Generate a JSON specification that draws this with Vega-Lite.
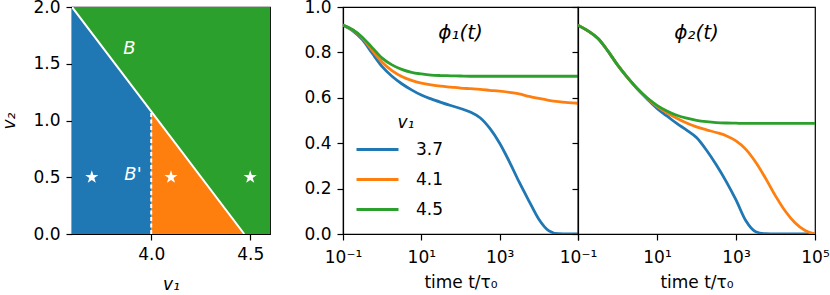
{
  "$schema": "https://vega.github.io/schema/vega-lite/v6.json",
  "background": "white",
  "padding": {"left": 0, "top": -3, "right": 0, "bottom": 0},
  "config": {
    "font": "DejaVu Sans",
    "view": {"stroke": "black", "strokeWidth": 1.2},
    "axis": {"grid": false, "domainColor": "black", "tickColor": "black", "labelColor": "black", "titleColor": "black", "labelFontSize": 17, "titleFontSize": 17, "titleFontWeight": "normal", "tickSize": 6, "domainWidth": 1.2, "tickWidth": 1.2, "labelFont": "DejaVu Sans", "titleFont": "DejaVu Sans", "labelPadding": 5, "titlePadding": 5, "labelFlush": false},
    "legend": {"labelFont": "DejaVu Sans", "titleFont": "DejaVu Sans"}
  },
  "datasets": {
    "boundary": [
      {"v1": 3.6, "b": 2},
      {"v1": 4.0, "b": 1.08},
      {"v1": 4.47, "b": 0},
      {"v1": 4.6, "b": 0}
    ],
    "phi1": [
      {"t": 0.1, "v1": "3.7", "phi": 0.92}, {"t": 0.1778, "v1": "3.7", "phi": 0.895}, {"t": 0.3162, "v1": "3.7", "phi": 0.855}, {"t": 0.5623, "v1": "3.7", "phi": 0.795},
      {"t": 1, "v1": "3.7", "phi": 0.737}, {"t": 1.778, "v1": "3.7", "phi": 0.695}, {"t": 3.162, "v1": "3.7", "phi": 0.662}, {"t": 5.623, "v1": "3.7", "phi": 0.635},
      {"t": 10, "v1": "3.7", "phi": 0.612}, {"t": 17.78, "v1": "3.7", "phi": 0.595}, {"t": 31.62, "v1": "3.7", "phi": 0.58}, {"t": 56.23, "v1": "3.7", "phi": 0.566},
      {"t": 100, "v1": "3.7", "phi": 0.553}, {"t": 177.8, "v1": "3.7", "phi": 0.537}, {"t": 316.2, "v1": "3.7", "phi": 0.512}, {"t": 562.3, "v1": "3.7", "phi": 0.465},
      {"t": 1000, "v1": "3.7", "phi": 0.4}, {"t": 1778, "v1": "3.7", "phi": 0.318}, {"t": 3162, "v1": "3.7", "phi": 0.228}, {"t": 5623, "v1": "3.7", "phi": 0.145},
      {"t": 10000, "v1": "3.7", "phi": 0.065}, {"t": 17783, "v1": "3.7", "phi": 0.015}, {"t": 31623, "v1": "3.7", "phi": 0.001}, {"t": 56234, "v1": "3.7", "phi": 0}, {"t": 100000, "v1": "3.7", "phi": 0},
      {"t": 0.1, "v1": "4.1", "phi": 0.92}, {"t": 0.1778, "v1": "4.1", "phi": 0.898}, {"t": 0.3162, "v1": "4.1", "phi": 0.862}, {"t": 0.5623, "v1": "4.1", "phi": 0.808},
      {"t": 1, "v1": "4.1", "phi": 0.757}, {"t": 1.778, "v1": "4.1", "phi": 0.72}, {"t": 3.162, "v1": "4.1", "phi": 0.694}, {"t": 5.623, "v1": "4.1", "phi": 0.677},
      {"t": 10, "v1": "4.1", "phi": 0.665}, {"t": 17.78, "v1": "4.1", "phi": 0.657}, {"t": 31.62, "v1": "4.1", "phi": 0.651}, {"t": 56.23, "v1": "4.1", "phi": 0.647},
      {"t": 100, "v1": "4.1", "phi": 0.643}, {"t": 177.8, "v1": "4.1", "phi": 0.64}, {"t": 316.2, "v1": "4.1", "phi": 0.637}, {"t": 562.3, "v1": "4.1", "phi": 0.633},
      {"t": 1000, "v1": "4.1", "phi": 0.629}, {"t": 1778, "v1": "4.1", "phi": 0.624}, {"t": 3162, "v1": "4.1", "phi": 0.617}, {"t": 5623, "v1": "4.1", "phi": 0.606},
      {"t": 10000, "v1": "4.1", "phi": 0.597}, {"t": 17783, "v1": "4.1", "phi": 0.589}, {"t": 31623, "v1": "4.1", "phi": 0.583}, {"t": 56234, "v1": "4.1", "phi": 0.579}, {"t": 100000, "v1": "4.1", "phi": 0.576},
      {"t": 0.1, "v1": "4.5", "phi": 0.92}, {"t": 0.1778, "v1": "4.5", "phi": 0.9}, {"t": 0.3162, "v1": "4.5", "phi": 0.866}, {"t": 0.5623, "v1": "4.5", "phi": 0.82},
      {"t": 1, "v1": "4.5", "phi": 0.775}, {"t": 1.778, "v1": "4.5", "phi": 0.745}, {"t": 3.162, "v1": "4.5", "phi": 0.725}, {"t": 5.623, "v1": "4.5", "phi": 0.712},
      {"t": 10, "v1": "4.5", "phi": 0.705}, {"t": 17.78, "v1": "4.5", "phi": 0.7}, {"t": 31.62, "v1": "4.5", "phi": 0.698}, {"t": 56.23, "v1": "4.5", "phi": 0.697},
      {"t": 100, "v1": "4.5", "phi": 0.696}, {"t": 177.8, "v1": "4.5", "phi": 0.695}, {"t": 316.2, "v1": "4.5", "phi": 0.695}, {"t": 562.3, "v1": "4.5", "phi": 0.695},
      {"t": 1000, "v1": "4.5", "phi": 0.695}, {"t": 1778, "v1": "4.5", "phi": 0.695}, {"t": 3162, "v1": "4.5", "phi": 0.695}, {"t": 5623, "v1": "4.5", "phi": 0.695},
      {"t": 10000, "v1": "4.5", "phi": 0.695}, {"t": 17783, "v1": "4.5", "phi": 0.695}, {"t": 31623, "v1": "4.5", "phi": 0.695}, {"t": 56234, "v1": "4.5", "phi": 0.695}, {"t": 100000, "v1": "4.5", "phi": 0.695}
    ],
    "phi2": [
      {"t": 0.1, "v1": "3.7", "phi": 0.92}, {"t": 0.1778, "v1": "3.7", "phi": 0.895}, {"t": 0.3162, "v1": "3.7", "phi": 0.862}, {"t": 0.5623, "v1": "3.7", "phi": 0.808},
      {"t": 1, "v1": "3.7", "phi": 0.745}, {"t": 1.778, "v1": "3.7", "phi": 0.69}, {"t": 3.162, "v1": "3.7", "phi": 0.64}, {"t": 5.623, "v1": "3.7", "phi": 0.595},
      {"t": 10, "v1": "3.7", "phi": 0.553}, {"t": 17.78, "v1": "3.7", "phi": 0.52}, {"t": 31.62, "v1": "3.7", "phi": 0.487}, {"t": 56.23, "v1": "3.7", "phi": 0.458},
      {"t": 100, "v1": "3.7", "phi": 0.425}, {"t": 177.8, "v1": "3.7", "phi": 0.37}, {"t": 316.2, "v1": "3.7", "phi": 0.305}, {"t": 562.3, "v1": "3.7", "phi": 0.232},
      {"t": 1000, "v1": "3.7", "phi": 0.15}, {"t": 1778, "v1": "3.7", "phi": 0.058}, {"t": 3162, "v1": "3.7", "phi": 0.01}, {"t": 5623, "v1": "3.7", "phi": 0.001},
      {"t": 10000, "v1": "3.7", "phi": 0}, {"t": 17783, "v1": "3.7", "phi": 0}, {"t": 31623, "v1": "3.7", "phi": 0}, {"t": 56234, "v1": "3.7", "phi": 0}, {"t": 100000, "v1": "3.7", "phi": 0},
      {"t": 0.1, "v1": "4.1", "phi": 0.92}, {"t": 0.1778, "v1": "4.1", "phi": 0.895}, {"t": 0.3162, "v1": "4.1", "phi": 0.862}, {"t": 0.5623, "v1": "4.1", "phi": 0.808},
      {"t": 1, "v1": "4.1", "phi": 0.745}, {"t": 1.778, "v1": "4.1", "phi": 0.69}, {"t": 3.162, "v1": "4.1", "phi": 0.64}, {"t": 5.623, "v1": "4.1", "phi": 0.598},
      {"t": 10, "v1": "4.1", "phi": 0.562}, {"t": 17.78, "v1": "4.1", "phi": 0.534}, {"t": 31.62, "v1": "4.1", "phi": 0.51}, {"t": 56.23, "v1": "4.1", "phi": 0.489},
      {"t": 100, "v1": "4.1", "phi": 0.472}, {"t": 177.8, "v1": "4.1", "phi": 0.459}, {"t": 316.2, "v1": "4.1", "phi": 0.447}, {"t": 562.3, "v1": "4.1", "phi": 0.433},
      {"t": 1000, "v1": "4.1", "phi": 0.41}, {"t": 1778, "v1": "4.1", "phi": 0.373}, {"t": 3162, "v1": "4.1", "phi": 0.316}, {"t": 5623, "v1": "4.1", "phi": 0.245},
      {"t": 10000, "v1": "4.1", "phi": 0.168}, {"t": 17783, "v1": "4.1", "phi": 0.1}, {"t": 31623, "v1": "4.1", "phi": 0.048}, {"t": 56234, "v1": "4.1", "phi": 0.015}, {"t": 100000, "v1": "4.1", "phi": 0.0},
      {"t": 0.1, "v1": "4.5", "phi": 0.92}, {"t": 0.1778, "v1": "4.5", "phi": 0.895}, {"t": 0.3162, "v1": "4.5", "phi": 0.862}, {"t": 0.5623, "v1": "4.5", "phi": 0.808},
      {"t": 1, "v1": "4.5", "phi": 0.745}, {"t": 1.778, "v1": "4.5", "phi": 0.69}, {"t": 3.162, "v1": "4.5", "phi": 0.641}, {"t": 5.623, "v1": "4.5", "phi": 0.6},
      {"t": 10, "v1": "4.5", "phi": 0.567}, {"t": 17.78, "v1": "4.5", "phi": 0.542}, {"t": 31.62, "v1": "4.5", "phi": 0.523}, {"t": 56.23, "v1": "4.5", "phi": 0.51},
      {"t": 100, "v1": "4.5", "phi": 0.501}, {"t": 177.8, "v1": "4.5", "phi": 0.495}, {"t": 316.2, "v1": "4.5", "phi": 0.491}, {"t": 562.3, "v1": "4.5", "phi": 0.489},
      {"t": 1000, "v1": "4.5", "phi": 0.488}, {"t": 1778, "v1": "4.5", "phi": 0.487}, {"t": 3162, "v1": "4.5", "phi": 0.487}, {"t": 5623, "v1": "4.5", "phi": 0.487},
      {"t": 10000, "v1": "4.5", "phi": 0.487}, {"t": 17783, "v1": "4.5", "phi": 0.487}, {"t": 31623, "v1": "4.5", "phi": 0.487}, {"t": 56234, "v1": "4.5", "phi": 0.487}, {"t": 100000, "v1": "4.5", "phi": 0.487}
    ]
  },
  "spacing": 73,
  "bounds": "flush",
  "hconcat": [
    {
      "width": 198,
      "height": 227,
      "layer": [
        {
          "data": {"name": "boundary"},
          "mark": {"type": "area", "color": "#2ca02c", "opacity": 1, "clip": true},
          "encoding": {
            "x": {"field": "v1", "type": "quantitative", "scale": {"domain": [3.6, 4.6], "nice": false, "zero": false},
              "axis": {"values": [4.0, 4.5], "format": ".1f", "title": "v₁", "titleFontStyle": "italic", "labelPadding": 6, "titlePadding": 14}},
            "y": {"field": "b", "type": "quantitative", "scale": {"domain": [0, 2], "nice": false},
              "axis": {"values": [0, 0.5, 1, 1.5, 2], "format": ".1f", "title": "v₂", "titleFontStyle": "italic", "labelPadding": 6, "titlePadding": 14}},
            "y2": {"datum": 2}
          }
        },
        {
          "data": {"name": "boundary"},
          "transform": [{"filter": "datum.v1 <= 4.0"}],
          "mark": {"type": "area", "color": "#1f77b4", "opacity": 1, "clip": true},
          "encoding": {
            "x": {"field": "v1", "type": "quantitative"},
            "y": {"field": "b", "type": "quantitative"}
          }
        },
        {
          "data": {"name": "boundary"},
          "transform": [{"filter": "datum.v1 >= 4.0 && datum.v1 <= 4.47"}],
          "mark": {"type": "area", "color": "#ff7f0e", "opacity": 1, "clip": true},
          "encoding": {
            "x": {"field": "v1", "type": "quantitative"},
            "y": {"field": "b", "type": "quantitative"}
          }
        },
        {
          "data": {"name": "boundary"},
          "transform": [{"filter": "datum.v1 <= 4.47"}],
          "mark": {"type": "line", "color": "white", "strokeWidth": 2, "clip": true},
          "encoding": {
            "x": {"field": "v1", "type": "quantitative"},
            "y": {"field": "b", "type": "quantitative"}
          }
        },
        {
          "data": {"values": [{"v1": 4.0, "bot": 0, "top": 1.08}]},
          "mark": {"type": "rule", "color": "white", "strokeWidth": 2, "strokeDash": [4, 2.5]},
          "encoding": {
            "x": {"field": "v1", "type": "quantitative"},
            "y": {"field": "bot", "type": "quantitative"},
            "y2": {"field": "top"}
          }
        },
        {
          "data": {"values": [{"v1": 3.7, "v2": 0.5}, {"v1": 4.1, "v2": 0.5}, {"v1": 4.5, "v2": 0.5}]},
          "mark": {"type": "point", "filled": true, "color": "white", "opacity": 1, "size": 190,
            "shape": "M0,-1L0.2245,-0.309L0.951,-0.309L0.363,0.118L0.588,0.809L0,0.382L-0.588,0.809L-0.363,0.118L-0.951,-0.309L-0.2245,-0.309Z"},
          "encoding": {
            "x": {"field": "v1", "type": "quantitative"},
            "y": {"field": "v2", "type": "quantitative"}
          }
        },
        {
          "data": {"values": [{"v1": 3.89, "v2": 1.63, "label": "B"}, {"v1": 3.908, "v2": 0.52, "label": "B'"}]},
          "mark": {"type": "text", "color": "white", "fontSize": 18, "fontStyle": "italic", "baseline": "middle", "align": "center"},
          "encoding": {
            "x": {"field": "v1", "type": "quantitative"},
            "y": {"field": "v2", "type": "quantitative"},
            "text": {"field": "label"}
          }
        }
      ]
    },
    {
      "spacing": 0,
      "bounds": "flush",
      "hconcat": [
        {
          "width": 235,
          "height": 227,
          "layer": [
            {
              "data": {"name": "phi1"},
              "mark": {"type": "line", "strokeWidth": 2.8, "interpolate": "monotone", "clip": true},
              "encoding": {
                "x": {"field": "t", "type": "quantitative", "scale": {"type": "log", "domain": [0.1, 100000], "nice": false},
                  "axis": {"values": [0.1, 10, 1000, 100000], "labelExpr": "datum.value < 1 ? '10⁻¹' : datum.value < 100 ? '10¹' : datum.value < 10000 ? '10³' : ''", "title": "time t/τ₀", "labelPadding": 9, "titlePadding": 9}},
                "y": {"field": "phi", "type": "quantitative", "scale": {"domain": [0, 1], "nice": false},
                  "axis": {"values": [0, 0.2, 0.4, 0.6, 0.8, 1.0], "format": ".1f", "title": null, "labelPadding": 6}},
                "color": {"field": "v1", "type": "nominal", "scale": {"domain": ["3.7", "4.1", "4.5"], "range": ["#1f77b4", "#ff7f0e", "#2ca02c"]},
                  "legend": {"orient": "none", "legendX": 297, "legendY": 108, "title": "v₁", "titleFontStyle": "italic", "titleFontSize": 17, "titleFontWeight": "normal", "labelFontSize": 17, "symbolType": "M-4.2,0L4.2,0", "symbolSize": 100, "symbolStrokeWidth": 3, "labelOffset": 30, "rowPadding": 12, "titleAnchor": "middle", "titlePadding": 9}}
              }
            },
            {
              "data": {"values": [{"t": 100, "y": 0.885, "label": "ϕ₁(t)"}]},
              "mark": {"type": "text", "fontSize": 20, "fontStyle": "italic", "baseline": "middle", "align": "center", "color": "black"},
              "encoding": {
                "x": {"field": "t", "type": "quantitative"},
                "y": {"field": "y", "type": "quantitative"},
                "text": {"field": "label"}
              }
            }
          ]
        },
        {
          "width": 237,
          "height": 227,
          "layer": [
            {
              "data": {"name": "phi2"},
              "mark": {"type": "line", "strokeWidth": 2.8, "interpolate": "monotone", "clip": true},
              "encoding": {
                "x": {"field": "t", "type": "quantitative", "scale": {"type": "log", "domain": [0.1, 100000], "nice": false},
                  "axis": {"values": [0.1, 10, 1000, 100000], "labelExpr": "datum.value < 1 ? '10⁻¹' : datum.value < 100 ? '10¹' : datum.value < 10000 ? '10³' : '10⁵'", "title": "time t/τ₀", "labelPadding": 9, "titlePadding": 9}},
                "y": {"field": "phi", "type": "quantitative", "scale": {"domain": [0, 1], "nice": false},
                  "axis": {"values": [0, 0.2, 0.4, 0.6, 0.8, 1.0], "labels": false, "title": null}},
                "color": {"field": "v1", "type": "nominal", "scale": {"domain": ["3.7", "4.1", "4.5"], "range": ["#1f77b4", "#ff7f0e", "#2ca02c"]},
                  "legend": {"orient": "none", "legendX": 297, "legendY": 108, "title": "v₁", "titleFontStyle": "italic", "titleFontSize": 17, "titleFontWeight": "normal", "labelFontSize": 17, "symbolType": "M-4.2,0L4.2,0", "symbolSize": 100, "symbolStrokeWidth": 3, "labelOffset": 30, "rowPadding": 12, "titleAnchor": "middle", "titlePadding": 9}}
              }
            },
            {
              "data": {"values": [{"t": 100, "y": 0.885, "label": "ϕ₂(t)"}]},
              "mark": {"type": "text", "fontSize": 20, "fontStyle": "italic", "baseline": "middle", "align": "center", "color": "black"},
              "encoding": {
                "x": {"field": "t", "type": "quantitative"},
                "y": {"field": "y", "type": "quantitative"},
                "text": {"field": "label"}
              }
            }
          ]
        }
      ]
    }
  ]
}
